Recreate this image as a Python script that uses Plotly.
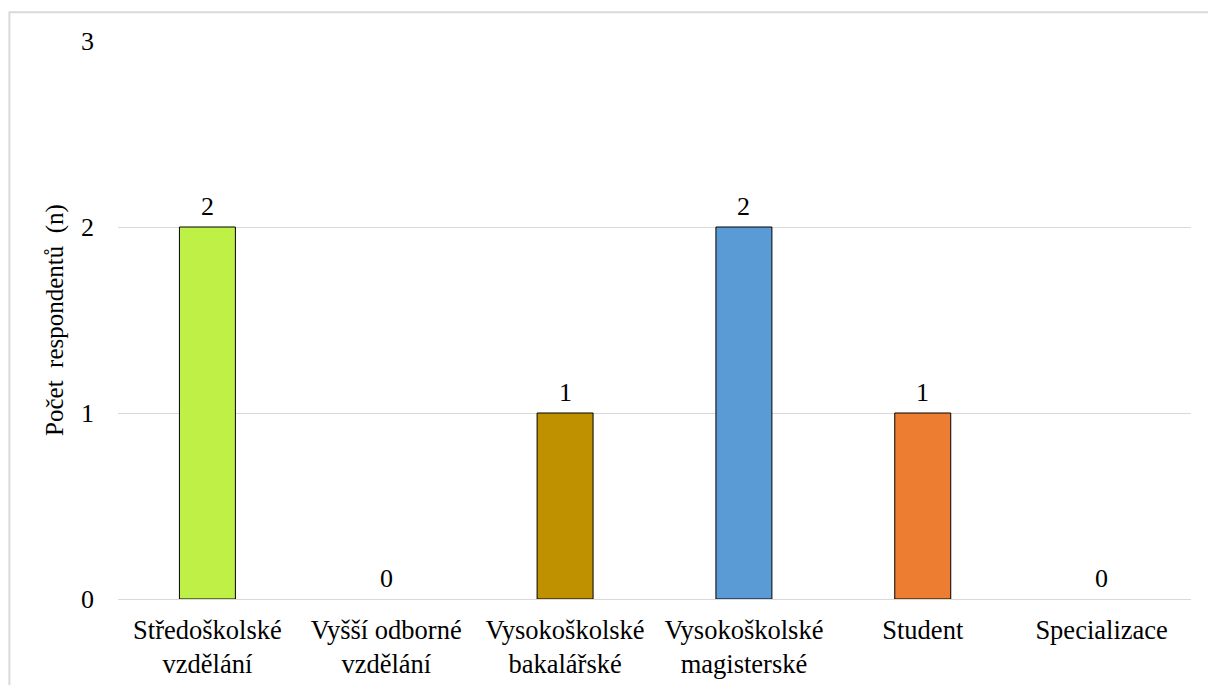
import plotly.graph_objects as go

# Education level of respondents
categories = [
    "Středoškolské<br>vzdělání",
    "Vyšší odborné<br>vzdělání",
    "Vysokoškolské<br>bakalářské",
    "Vysokoškolské<br>magisterské",
    "Student",
    "Specializace",
]
counts = [2, 0, 1, 2, 1, 0]
bar_colors = ["#BEF045", "#A5A5A5", "#BF9000", "#5B9BD5", "#ED7D31", "#70AD47"]

FONT = "Liberation Serif"

# zero-height bars get no outline so only their label shows
outline_widths = [1 if v > 0 else 0 for v in counts]

fig = go.Figure(
    go.Bar(
        x=categories,
        y=counts,
        marker=dict(color=bar_colors, line=dict(color="#000000", width=outline_widths)),
        width=0.313,
        hoverinfo="x+y",
    )
)

# value labels above each bar
for cat, val in zip(categories, counts):
    fig.add_annotation(
        x=cat,
        y=val,
        text=str(val),
        showarrow=False,
        yanchor="bottom",
        yshift=4,
        font=dict(family=FONT, size=26, color="#000000"),
    )

fig.update_layout(
    width=1208,
    height=685,
    margin=dict(l=118, r=17, t=41, b=86),
    paper_bgcolor="#ffffff",
    plot_bgcolor="#ffffff",
    showlegend=False,
    font=dict(family=FONT, size=26, color="#000000"),
    xaxis=dict(
        automargin=False,
        showgrid=False,
        showline=False,
        ticks="",
        ticklabelstandoff=12,
        tickfont=dict(family=FONT, size=26.5, color="#000000"),
    ),
    yaxis=dict(
        automargin=False,
        range=[0, 3],
        tickvals=[0, 1, 2, 3],
        showgrid=True,
        gridcolor="#d9d9d9",
        gridwidth=1,
        zeroline=True,
        zerolinecolor="#d9d9d9",
        zerolinewidth=1,
        ticks="",
        ticklabelstandoff=23,
        tickfont=dict(family=FONT, size=26, color="#000000"),
        title=dict(
            text="Počet\u00a0\u00a0respondentů\u00a0\u00a0(n)",
            font=dict(family=FONT, size=25, color="#000000"),
            standoff=10,
        ),
    ),
    shapes=[
        dict(
            type="rect",
            xref="paper",
            yref="paper",
            x0=-0.1012,
            x1=1.05,
            y0=-0.3,
            y1=1.0515,
            line=dict(color="#d9d9d9", width=2),
            fillcolor="rgba(0,0,0,0)",
            layer="below",
        )
    ],
)

fig.write_html("out.html")
